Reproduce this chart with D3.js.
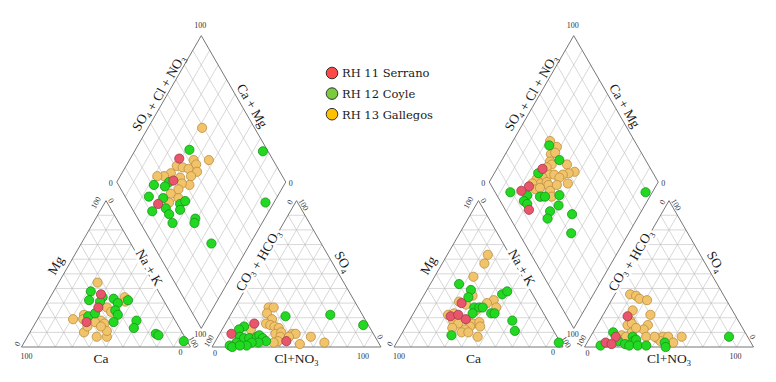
<!DOCTYPE html>
<html lang="es">
<head>
<meta charset="utf-8">
<script src="https://d3js.org/d3.v7.min.js"></script>
<style>
  body { margin: 0; background: #fff; }
  text { font-family: "Liberation Serif", "DejaVu Serif", serif; fill: #1a1a1a; }
</style>
</head>
<body>
<script>
// series (legend order)
const seriesNames = ["RH 11 Serrano", "RH 12 Coyle", "RH 13 Gallegos"];
const seriesFill = ["#e9566b", "#22d922", "#f1c46b"];
const seriesStroke = ["#9d3a48", "#179417", "#bb8d3d"];
const legendFill = ["#ff4848", "#7acc3e", "#ffc000"];

// ---- left Piper ----
// cations [Ca, Mg] in %, Na+K is the rest
const leftCatSerrano = [[35,36],[41,27],[53,17]];
const leftCatCoyle = [[40,38],[35,34],[44,32],[38,31],[29,33],[28,30],[21,32],[32,25],[32,22],[50,21],[45,23],[37,17],[23,18],[27,13],[16,9],[15,8],[2,4]];
const leftCatGallegos = [[33,44],[36,27],[22,34],[23,31],[35,24],[52,22],[54,19],[60,19],[44,18],[48,17],[43,16],[58,10],[52,7],[46,7],[44,11],[54,14],[46,14]];
// anions [Cl+NO3, SO4] in %, CO3+HCO3 is the rest
const leftAniSerrano = [[17,16],[7,9],[42,4]];
const leftAniCoyle = [[33,21],[59,22],[82,15],[12,14],[10,12],[13,7],[16,6],[19,6],[23,7],[24,8],[27,6],[30,4],[26,3],[22,3],[20,1],[13,3],[10,1],[12,0],[16,1]];
const leftAniGallegos = [[20,27],[23,27],[21,23],[26,19],[24,16],[27,15],[30,14],[33,13],[33,9],[36,10],[37,7],[37,4],[35,3],[17,12],[20,6],[43,9],[45,9],[55,7],[65,3],[51,2],[42,7]];
// diamond [SO4+Cl+NO3, Ca+Mg] in %
const leftDiaSerrano = [[45,71],[34,67],[17,68]];
const leftDiaCoyle = [[54,68],[97,24],[31,69],[21,77],[27,70],[14,76],[22,67],[11,69],[30,55],[34,53],[28,53],[20,62],[20,58],[34,41],[81,5],[32,40],[35,23],[19,53]];
const leftDiaGallegos = [[69,68],[62,53],[53,62],[53,59],[41,70],[44,66],[47,62],[51,56],[35,71],[30,74],[26,78],[39,64],[46,58],[42,56],[38,61],[34,61],[28,64],[31,58],[24,62]];

// ---- right Piper ----
const rightCatSerrano = [[45,30],[56,21],[51,22],[48,19]];
const rightCatCoyle = [[40,43],[35,39],[39,34],[18,36],[14,38],[39,27],[36,27],[34,27],[31,23],[29,23],[42,23],[21,18],[23,11],[62,8],[1,3]];
const rightCatGallegos = [[13,63],[18,57],[29,48],[36,35],[25,32],[30,30],[26,27],[46,31],[43,29],[39,25],[53,23],[57,22],[56,18],[54,16],[59,13],[47,18],[45,16],[48,14],[41,17],[42,14],[52,12],[55,10],[51,10],[47,7]];
const rightAniSerrano = [[15,21],[15,7],[11,3],[15,2]];
const rightAniCoyle = [[12,10],[25,7],[27,4],[28,5],[18,4],[9,1],[23,2],[26,1],[31,1],[36,1],[46,3],[48,0],[82,7]];
const rightAniGallegos = [[9,36],[13,35],[16,33],[21,32],[16,25],[28,22],[18,18],[18,15],[20,16],[30,15],[29,12],[23,10],[24,13],[18,8],[21,7],[33,7],[40,6],[43,7],[46,7],[43,4],[51,3],[54,7],[38,7]];
const rightDiaSerrano = [[36,73],[22,75],[16,78],[14,67]];
const rightDiaCoyle = [[48,77],[49,66],[32,74],[9,84],[18,73],[14,73],[15,70],[25,65],[28,62],[37,54],[33,51],[26,54],[22,53],[38,40],[31,34],[89,4]];
const rightDiaGallegos = [[50,78],[52,72],[46,73],[49,71],[43,71],[43,69],[52,60],[39,71],[54,53],[50,56],[46,59],[38,67],[41,64],[33,70],[29,73],[30,69],[43,60],[46,53],[25,74],[34,66],[34,64],[39,59],[25,70],[28,68],[33,61],[26,64],[32,58]];

// geometry
const side = 169, gap = 21.5, baseY = 347;
const k = Math.sqrt(3) / 2;
const pct = d3.scaleLinear().domain([0, 100]).range([0, side]);
const ticks = d3.range(10, 100, 10);

const svg = d3.select("body").append("svg")
  .attr("width", 776).attr("height", 382);

function lerp(p, q, t) { return [p[0] + (q[0] - p[0]) * t, p[1] + (q[1] - p[1]) * t]; }

// point on edge p->q at t, pushed d px along the (outward) normal
function edgePt(p, q, t, d) {
  const len = Math.hypot(q[0] - p[0], q[1] - p[1]);
  const ux = (q[0] - p[0]) / len, uy = (q[1] - p[1]) / len;
  const m = lerp(p, q, t);
  return [m[0] + uy * d, m[1] - ux * d];
}

function geometry(x0) {
  const cat = { bl: [x0, baseY], br: [x0 + side, baseY], t: [x0 + side / 2, baseY - side * k] };
  const ax = x0 + side + gap;
  const ani = { bl: [ax, baseY], br: [ax + side, baseY], t: [ax + side / 2, baseY - side * k] };
  const bx = x0 + side + gap / 2, by = baseY - gap * k;
  const dia = { b: [bx, by], l: [bx - side / 2, by - side * k], t: [bx, by - 2 * side * k], r: [bx + side / 2, by - side * k] };
  return { cat, ani, dia };
}

function catXY(d, g) {
  const nak = 100 - d[0] - d[1];
  return [g.cat.bl[0] + pct(nak) + pct(d[1]) / 2, baseY - pct(d[1]) * k];
}
function aniXY(d, g) {
  return [g.ani.bl[0] + pct(d[0]) + pct(d[1]) / 2, baseY - pct(d[1]) * k];
}
function diaXY(d, g) {
  const n = 100 - d[1];
  return [g.dia.l[0] + (pct(d[0]) + pct(n)) / 2, g.dia.l[1] - (pct(d[0]) - pct(n)) * k];
}

function labelText(x, y, rot, parts, size) {
  const t = svg.append("text")
    .attr("transform", `translate(${x},${y}) rotate(${rot})`)
    .attr("text-anchor", "middle")
    .attr("y", size * 0.33)
    .style("font-size", size + "px");
  parts.forEach(p => {
    if (p[1]) {
      t.append("tspan").attr("dy", 3).style("font-size", (size * 0.62) + "px").text(p[0]);
      t.append("tspan").attr("dy", -3).text("");
    } else {
      t.append("tspan").text(p[0]);
    }
  });
  return t;
}

function addLabel(x, y, rot, parts, size, halo) {
  // white knock-out behind the title so the edge line is broken there
  if (halo) labelText(x, y, rot, parts, size).style("fill", "#fff")
    .attr("stroke", "#fff").attr("stroke-width", 5);
  labelText(x, y, rot, parts, size);
}

function tick(v, dx, dy, rot, txt) {
  svg.append("text")
    .attr("transform", `translate(${v[0] + dx},${v[1] + dy}) rotate(${rot})`)
    .attr("text-anchor", "middle").attr("y", 2.7)
    .style("font-size", "8px").style("fill", "#333")
    .text(txt);
}

function drawPiper(x0, cats, anis, dias) {
  const g = geometry(x0);
  const grid = svg.append("g").attr("stroke", "#bdbdbd").attr("stroke-width", 0.6);
  const segs = [];
  [g.cat, g.ani].forEach(tri => {
    const v = [tri.bl, tri.br, tri.t];
    ticks.forEach(p => {
      const t = p / 100;
      for (let i = 0; i < 3; i++) {
        const a = v[i], b = v[(i + 1) % 3], c = v[(i + 2) % 3];
        segs.push([lerp(a, b, t), lerp(a, c, t)]);
      }
    });
  });
  ticks.forEach(p => {
    const t = p / 100;
    segs.push([lerp(g.dia.l, g.dia.b, t), lerp(g.dia.t, g.dia.r, t)]);
    segs.push([lerp(g.dia.l, g.dia.t, t), lerp(g.dia.b, g.dia.r, t)]);
  });
  grid.selectAll("line").data(segs).join("line")
    .attr("x1", d => d[0][0]).attr("y1", d => d[0][1])
    .attr("x2", d => d[1][0]).attr("y2", d => d[1][1]);

  const outline = [
    [g.cat.bl, g.cat.br, g.cat.t],
    [g.ani.bl, g.ani.br, g.ani.t],
    [g.dia.l, g.dia.t, g.dia.r, g.dia.b]
  ];
  svg.append("g").selectAll("path").data(outline).join("path")
    .attr("d", d => "M" + d.map(p => p.join(",")).join("L") + "Z")
    .attr("fill", "none").attr("stroke", "#666").attr("stroke-width", 0.9);

  // axis titles
  let p = edgePt(g.cat.bl, g.cat.t, 0.52, 11);
  addLabel(p[0], p[1], -60, [["Mg"]], 13.5);
  p = edgePt(g.cat.t, g.cat.br, 0.47, 4);
  addLabel(p[0], p[1], 60, [["Na + K"]], 13.5, true);
  addLabel(g.cat.bl[0] + side * 0.47, baseY + 12, 0, [["Ca"]], 13.5);
  p = edgePt(g.ani.bl, g.ani.t, 0.58, 5);
  addLabel(p[0], p[1], -60, [["CO"], ["3", 1], [" + HCO"], ["3", 1]], 13.5, true);
  p = edgePt(g.ani.t, g.ani.br, 0.45, 10);
  addLabel(p[0], p[1], 60, [["SO"], ["4", 1]], 13.5);
  addLabel(g.ani.bl[0] + side * 0.5, baseY + 12, 0, [["Cl+NO"], ["3", 1]], 13.5);
  p = edgePt(g.dia.l, g.dia.t, 0.58, 10);
  addLabel(p[0], p[1], -60, [["SO"], ["4", 1], [" + Cl + NO"], ["3", 1]], 13.5);
  p = edgePt(g.dia.t, g.dia.r, 0.51, 9);
  addLabel(p[0], p[1], 60, [["Ca + Mg"]], 13.5);

  // end values
  tick(g.cat.t, -10, 2, -60, "100");
  tick(g.cat.t, 5, 0, 60, "0");
  tick(g.cat.bl, -4, -3, -60, "0");
  tick(g.cat.bl, 5, 9, 0, "100");
  tick(g.cat.br, 3, -5, 60, "100");
  tick(g.cat.br, -10, 5, 0, "0");
  tick(g.dia.b, -1, 6, 0, "100");
  tick(g.dia.t, -1, -10, 0, "100");
  tick(g.dia.l, -6, 1, 0, "0");
  tick(g.dia.r, 5, 1, 0, "0");
  tick(g.ani.bl, -3, -6, -60, "100");
  tick(g.ani.bl, 3, 6, 0, "0");
  tick(g.ani.t, -6.5, 1.5, -60, "0");
  tick(g.ani.t, 7, 4, 60, "100");
  tick(g.ani.br, -1, -10, 60, "0");
  tick(g.ani.br, -18, 9, 0, "100");

  // samples: Gallegos under, then Coyle, Serrano on top
  [2, 1, 0].forEach(s => {
    const pts = []
      .concat(cats[s].map(d => catXY(d, g)))
      .concat(anis[s].map(d => aniXY(d, g)))
      .concat(dias[s].map(d => diaXY(d, g)));
    svg.append("g").selectAll("circle").data(pts).join("circle")
      .attr("cx", d => d[0]).attr("cy", d => d[1]).attr("r", 4.6)
      .attr("fill", seriesFill[s]).attr("stroke", seriesStroke[s]).attr("stroke-width", 0.8);
  });
}

drawPiper(21.5,
  [leftCatSerrano, leftCatCoyle, leftCatGallegos],
  [leftAniSerrano, leftAniCoyle, leftAniGallegos],
  [leftDiaSerrano, leftDiaCoyle, leftDiaGallegos]);
drawPiper(394,
  [rightCatSerrano, rightCatCoyle, rightCatGallegos],
  [rightAniSerrano, rightAniCoyle, rightAniGallegos],
  [rightDiaSerrano, rightDiaCoyle, rightDiaGallegos]);

// legend
const legend = svg.append("g").attr("transform", "translate(332,73)");
const rows = legend.selectAll("g").data(seriesNames).join("g")
  .attr("transform", (d, i) => `translate(0,${i * 20.6})`);
rows.append("circle").attr("r", 5.8)
  .attr("fill", (d, i) => legendFill[i]).attr("stroke", "#333").attr("stroke-width", 1);
rows.append("text").attr("x", 10).attr("y", 4.3)
  .style("font-family", "'DejaVu Serif', serif").style("font-size", "11.5px")
  .text(d => d);
</script>
</body>
</html>
